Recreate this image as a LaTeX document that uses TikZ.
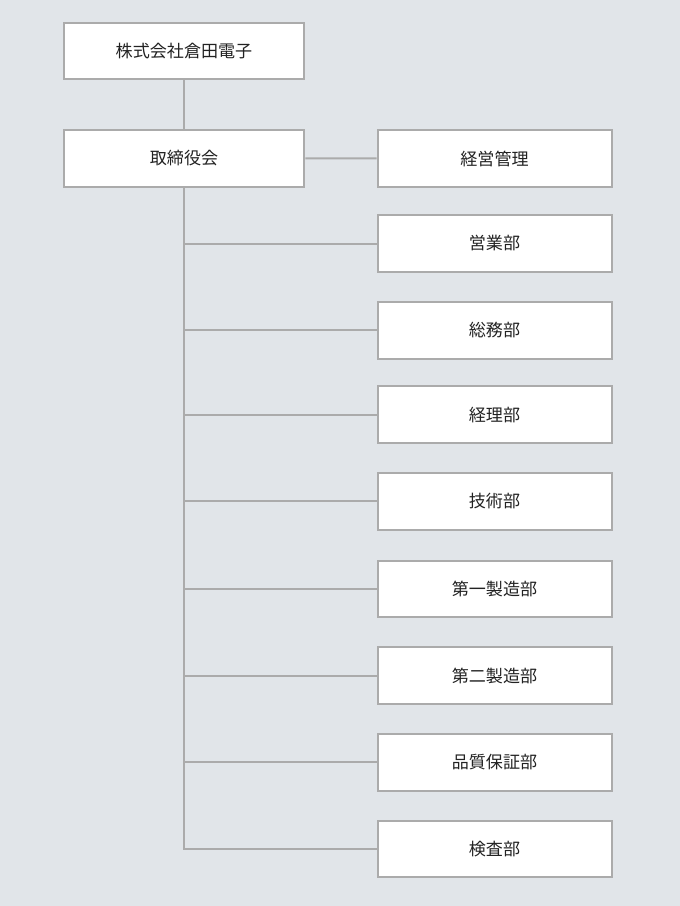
\documentclass[tikz,border=0pt]{standalone}
\usepackage{fontspec}
\usepackage{xcolor}
\usepackage{tikz}
\usetikzlibrary{calc}
\newfontfamily\cjk{Noto Sans CJK JP}

\definecolor{bgcol}{HTML}{E1E5E9}
\definecolor{edgecol}{HTML}{ABABAB}
\definecolor{textcol}{HTML}{222222}

\tikzset{
	orgbox/.style = {draw = edgecol, line width = 1.5pt, fill = white, text = textcol,
		font = \cjk\fontsize{12.8pt}{15pt}\selectfont, inner sep = 0pt,
		minimum height = 42.5pt},
	topbox/.style = {orgbox, minimum width = 180.5pt},
	deptbox/.style = {orgbox, minimum width = 175.5pt},
	orgline/.style = {draw = edgecol, line width = 1.5pt}
}

\begin{document}
\begin{tikzpicture}[x = 0.75pt, y = -0.75pt]
		%background
		\fill [bgcol] (0,0) rectangle (680,906);
		\useasboundingbox (0,0) rectangle (680,906);
		
		%variables
		\def\dx{494.5};
		
		%top of the chart
		\node [topbox] (company) at (184, 51) {株式会社倉田電子};
		\node [topbox] (board) at (184, 158.3) {取締役会};
		
		%departments
		\node [deptbox] (mgmt) at (\dx, 158.5) {経営管理};
		\node [deptbox] (sales) at (\dx, 243.5) {営業部};
		\node [deptbox] (general) at (\dx, 330.3) {総務部};
		\node [deptbox] (account) at (\dx, 414.7) {経理部};
		\node [deptbox] (tech) at (\dx, 501.2) {技術部};
		\node [deptbox] (prodA) at (\dx, 589) {第一製造部};
		\node [deptbox] (prodB) at (\dx, 675.7) {第二製造部};
		\node [deptbox] (quality) at (\dx, 762.2) {品質保証部};
		\node [deptbox] (inspect) at (\dx, 849) {検査部};
		
		%connectors
		\draw [orgline] (company) -- (board);
		\draw [orgline] (board) -- (mgmt);
		\foreach \d in {sales, general, account, tech, prodA, prodB, quality, inspect}
			\draw [orgline] (board.south) |- (\d.west);
	\end{tikzpicture}
\end{document}
